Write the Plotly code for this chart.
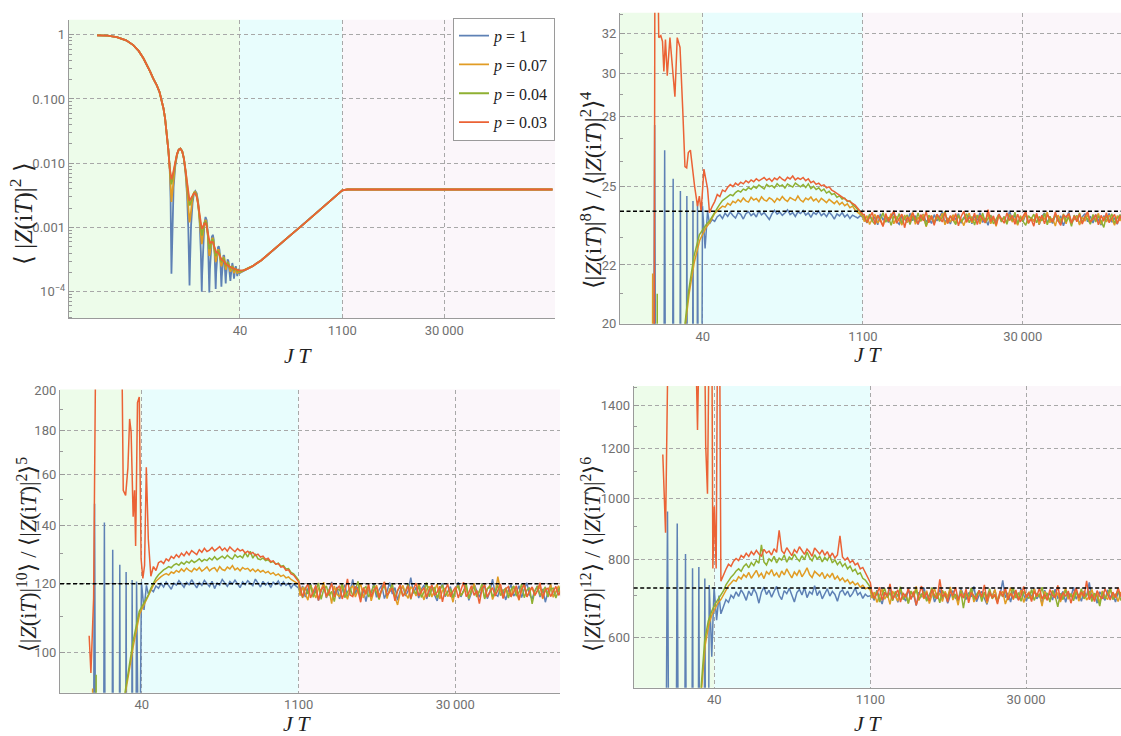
import numpy as np
import plotly.graph_objects as go

# ---------------------------------------------------------------- series
LABELS = ["<i>p</i> = 1", "<i>p</i> = 0.07", "<i>p</i> = 0.04", "<i>p</i> = 0.03"]
COLORS = ["#5E81B5", "#E19C24", "#8FB032", "#EB6235"]

REGION_EDGES = [40, 1100]                      # JT where the shading changes
X_TICKS = [40, 1100, 30000]
X_TICK_TEXT = ["40", "1100", "30\u2009000"]

# ---- panel 1: <|Z(iT)|^2>
DECAY_X = [0.39, 0.55, 0.74, 1.0, 1.26, 1.5, 1.75, 2.0, 2.17, 2.4, 2.69, 2.95, 3.17,
           3.35, 3.53, 3.75, 3.93, 4.1]
DECAY_Y = [0.98, 0.97, 0.92, 0.82, 0.69, 0.56, 0.43, 0.33, 0.27, 0.21, 0.165, 0.128,
           0.097, 0.072, 0.05, 0.029, 0.016, 0.0085]

OSC_X = [4.22, 4.34, 4.47, 4.65, 4.9, 5.2, 5.5, 5.8, 6.15, 6.5,
         6.85, 7.2, 7.5, 7.7, 7.8, 7.95, 8.2, 8.6, 9.0, 9.4,
         9.85, 10.3, 10.8, 11.25, 11.45, 11.6, 11.75, 12.1, 12.6, 13.1,
         13.6, 14.1, 14.5, 14.8, 15.1, 15.6, 16.1, 16.6, 17.1, 17.6,
         18.0, 18.2, 18.5, 19.1, 19.6, 20.1, 20.6, 21.2, 21.7, 21.9,
         22.2, 22.8, 23.4, 24.0, 24.6, 25.0, 25.2, 25.5, 26.1, 26.8,
         27.5, 28.2, 28.9, 29.3, 29.7, 30.4, 31.2, 32.0, 32.6, 32.9,
         33.3, 34.1, 34.9, 35.7, 36.3, 36.6, 37.0, 37.8, 38.6, 39.4,
         40.0]
OSC_P100 = [2.8e-3, 1.9e-4, 1.1e-3, 4.2e-3, 8.8e-3, 1.35e-2, 1.63e-2, 1.70e-2, 1.55e-2, 1.18e-2,
            7.2e-3, 3.2e-3, 9.5e-4, 2.6e-4, 1.25e-4, 3.2e-4, 1.1e-3, 2.4e-3, 3.4e-3, 3.7e-3,
            3.4e-3, 2.5e-3, 1.3e-3, 4.2e-4, 1.6e-4, 1.0e-4, 1.9e-4, 6.0e-4, 1.15e-3, 1.46e-3,
            1.3e-3, 8.4e-4, 3.6e-4, 9.7e-5, 2.2e-4, 5.2e-4, 7.2e-4, 7.7e-4, 6.5e-4, 3.9e-4,
            1.7e-4, 1.1e-4, 2.0e-4, 3.9e-4, 4.9e-4, 5.1e-4, 4.5e-4, 3.0e-4, 1.6e-4, 1.2e-4,
            1.7e-4, 2.9e-4, 3.7e-4, 3.6e-4, 2.5e-4, 1.6e-4, 1.35e-4, 1.8e-4, 2.7e-4, 3.2e-4,
            3.0e-4, 2.3e-4, 1.65e-4, 1.48e-4, 1.75e-4, 2.5e-4, 2.8e-4, 2.4e-4, 1.8e-4, 1.6e-4,
            1.75e-4, 2.3e-4, 2.5e-4, 2.2e-4, 1.85e-4, 1.75e-4, 1.9e-4, 2.25e-4, 2.2e-4, 1.95e-4,
            1.97e-4]
OSC_P007 = [4.2e-3, 2.5e-3, 3.5e-3, 5.8e-3, 9.7e-3, 1.36e-2, 1.62e-2, 1.69e-2, 1.54e-2, 1.18e-2,
            7.4e-3, 3.8e-3, 1.9e-3, 1.32e-3, 1.2e-3, 1.35e-3, 1.9e-3, 2.9e-3, 3.5e-3, 3.6e-3,
            3.2e-3, 2.4e-3, 1.3e-3, 7.0e-4, 5.8e-4, 5.5e-4, 6.0e-4, 8.2e-4, 1.17e-3, 1.32e-3,
            1.16e-3, 7.5e-4, 4.6e-4, 3.6e-4, 3.9e-4, 5.4e-4, 6.6e-4, 6.9e-4, 5.9e-4, 4.1e-4,
            3.1e-4, 2.9e-4, 3.1e-4, 4.0e-4, 4.5e-4, 4.5e-4, 4.0e-4, 3.1e-4, 2.6e-4, 2.5e-4,
            2.6e-4, 3.1e-4, 3.4e-4, 3.3e-4, 2.8e-4, 2.3e-4, 2.2e-4, 2.3e-4, 2.65e-4, 2.85e-4,
            2.75e-4, 2.45e-4, 2.15e-4, 2.05e-4, 2.12e-4, 2.38e-4, 2.5e-4, 2.35e-4, 2.1e-4, 1.95e-4,
            2.0e-4, 2.2e-4, 2.3e-4, 2.15e-4, 2.0e-4, 1.92e-4, 1.97e-4, 2.12e-4, 2.1e-4, 2.02e-4,
            2.0e-4]
OSC_P004 = [5.5e-3, 4.7e-3, 5.5e-3, 7.3e-3, 1.05e-2, 1.39e-2, 1.63e-2, 1.69e-2, 1.54e-2, 1.18e-2,
            7.6e-3, 4.3e-3, 2.7e-3, 2.3e-3, 2.2e-3, 2.3e-3, 2.6e-3, 3.1e-3, 3.5e-3, 3.5e-3,
            3.1e-3, 2.3e-3, 1.4e-3, 9.0e-4, 7.9e-4, 7.5e-4, 7.9e-4, 9.5e-4, 1.18e-3, 1.25e-3,
            1.1e-3, 7.8e-4, 5.5e-4, 4.6e-4, 4.8e-4, 5.7e-4, 6.4e-4, 6.5e-4, 5.6e-4, 4.4e-4,
            3.8e-4, 3.6e-4, 3.7e-4, 4.1e-4, 4.3e-4, 4.2e-4, 3.9e-4, 3.3e-4, 3.0e-4, 2.9e-4,
            2.95e-4, 3.2e-4, 3.3e-4, 3.15e-4, 2.8e-4, 2.55e-4, 2.5e-4, 2.55e-4, 2.7e-4, 2.8e-4,
            2.7e-4, 2.5e-4, 2.32e-4, 2.28e-4, 2.3e-4, 2.42e-4, 2.45e-4, 2.35e-4, 2.22e-4, 2.18e-4,
            2.2e-4, 2.28e-4, 2.28e-4, 2.2e-4, 2.12e-4, 2.1e-4, 2.12e-4, 2.17e-4, 2.14e-4, 2.08e-4,
            2.06e-4]
OSC_P003 = [6.2e-3, 5.6e-3, 6.2e-3, 7.8e-3, 1.08e-2, 1.40e-2, 1.63e-2, 1.68e-2, 1.53e-2, 1.18e-2,
            7.8e-3, 4.7e-3, 3.1e-3, 2.7e-3, 2.6e-3, 2.7e-3, 2.9e-3, 3.2e-3, 3.4e-3, 3.4e-3,
            3.0e-3, 2.3e-3, 1.5e-3, 1.1e-3, 9.8e-4, 9.5e-4, 9.7e-4, 1.05e-3, 1.15e-3, 1.17e-3,
            1.04e-3, 8.2e-4, 6.6e-4, 5.9e-4, 5.7e-4, 5.8e-4, 6.0e-4, 5.9e-4, 5.4e-4, 4.7e-4,
            4.3e-4, 4.2e-4, 4.1e-4, 4.15e-4, 4.1e-4, 3.95e-4, 3.7e-4, 3.4e-4, 3.2e-4, 3.15e-4,
            3.1e-4, 3.1e-4, 3.05e-4, 2.95e-4, 2.8e-4, 2.7e-4, 2.68e-4, 2.66e-4, 2.65e-4, 2.62e-4,
            2.55e-4, 2.48e-4, 2.42e-4, 2.4e-4, 2.39e-4, 2.38e-4, 2.35e-4, 2.31e-4, 2.28e-4, 2.27e-4,
            2.26e-4, 2.25e-4, 2.23e-4, 2.2e-4, 2.19e-4, 2.18e-4, 2.18e-4, 2.17e-4, 2.16e-4, 2.15e-4,
            2.15e-4]

RAMP_X = [45, 50, 60, 80, 100, 150, 200, 300, 400, 600, 800, 1000, 1100, 1300, 1e4, 1e5, 1e6]
RAMP_Y = [2.15e-4, 2.25e-4, 2.5e-4, 3.1e-4, 3.8e-4, 5.6e-4, 7.4e-4, 1.08e-3, 1.43e-3, 2.12e-3,
          2.8e-3, 3.5e-3, 3.8e-3, 3.9e-3, 3.9e-3, 3.9e-3, 3.9e-3]

# ---- panels 2-4: moment ratios; early (oscillating) part, dip-ramp hump, plateau
HUMP_SPAN = (46, 1100)
PLATEAU_SPAN = (1130, 2.8e5)
REF_LEVELS = [24, 120, 720]          # k! reference lines for k = 4, 5, 6

BLUE_EARLY_X = [7.5, 13.0, 14.8, 16.5, 18.2, 20.0, 21.7, 23.5, 25.2, 27.0,
                28.8, 30.8, 32.7, 34.3, 35.9, 37.9, 39.8, 42.0, 44.2]

# k = 4
R4_BLUE_EARLY = [2, 2, 27.6, 2, 26.5, 2, 25.3, 2, 24.8, 2, 24.6, 2, 24.4, 3, 24.3, 8, 24.2, 22.6, 24.0]
R4_ORANGE_EARLY_X = [7.5, 13.6, 14.2, 14.8, 26.5, 28.0, 30.2, 33.6, 37.6, 43.2]
R4_ORANGE_EARLY = [2, 2, 21.7, 2, 5, 20.0, 21.0, 22.1, 22.9, 23.4]
R4_GREEN_EARLY_X = [7.5, 14.9, 15.6, 16.3, 26.5, 27.7, 29.9, 33.3, 37.3, 43.2]
R4_GREEN_EARLY = [2, 2, 21.0, 2, 5, 20.0, 21.1, 22.3, 23.1, 23.5]
R4_RED_EARLY_X = [7.5, 14.0, 14.9, 15.6, 16.1, 16.8, 17.4, 17.9, 18.5, 19.2, 20.3, 21.2, 22.5, 23.6,
                  25.0, 26.4, 27.7, 28.7, 29.7, 31.0, 32.4, 33.8, 35.9, 37.3, 38.7, 41.0, 44.2]
R4_RED_EARLY = [2, 2, 40, 40, 31.8, 31.9, 31.6, 30.1, 31.7, 29.9, 31.8, 30.5, 28.9, 31.8,
                31.3, 28.4, 25.8, 25.75, 26.4, 26.5, 25.6, 25.0, 24.2, 24.6, 24.0, 25.7, 24.9]

R4_BLUE_HUMP = [23.52, 23.68, 23.61, 23.79, 23.86, 23.72, 23.93, 23.80, 23.97, 23.84,
                23.74, 23.95, 23.88, 23.70, 23.91, 23.99, 23.83, 23.92, 23.78, 24.02,
                23.86, 23.95, 23.81, 23.68, 23.90, 24.04, 23.89, 23.97, 23.84, 23.93,
                24.06, 23.87, 23.95, 23.80, 23.98, 23.91, 24.03, 23.85, 23.94, 23.76,
                23.96, 23.88, 24.01, 23.83, 23.92, 23.79, 23.97, 23.86, 23.70, 23.90,
                23.82, 23.95, 23.78, 23.88, 23.72, 23.85, 23.79, 23.74, 23.83, 23.76]
R4_ORANGE_HUMP = [23.55, 23.75, 23.92, 24.02, 24.12, 24.20, 24.16, 24.31, 24.24, 24.39,
                  24.33, 24.46, 24.37, 24.52, 24.41, 24.36, 24.55, 24.44, 24.50, 24.38,
                  24.57, 24.45, 24.40, 24.53, 24.47, 24.35, 24.51, 24.43, 24.58, 24.46,
                  24.39, 24.54, 24.48, 24.42, 24.60, 24.44, 24.37, 24.52, 24.45, 24.56,
                  24.41, 24.49, 24.36, 24.51, 24.43, 24.34, 24.47, 24.38, 24.30, 24.41,
                  24.26, 24.35, 24.22, 24.29, 24.14, 24.20, 24.05, 23.96, 23.88, 23.79]
R4_GREEN_HUMP = [23.62, 23.80, 23.97, 24.12, 24.28, 24.42, 24.50, 24.58, 24.66, 24.61,
                 24.74, 24.82, 24.76, 24.88, 24.83, 24.94, 24.87, 24.99, 24.91, 25.04,
                 24.95, 24.89, 25.07, 24.98, 25.02, 24.93, 25.10, 24.99, 25.05, 24.92,
                 25.08, 25.01, 24.96, 25.12, 25.03, 24.97, 25.06, 24.94, 25.09, 24.90,
                 24.99, 24.86, 24.93, 24.80, 24.88, 24.72, 24.79, 24.66, 24.70, 24.55,
                 24.61, 24.48, 24.52, 24.38, 24.41, 24.26, 24.18, 24.05, 23.96, 23.84]
R4_RED_HUMP = [23.95, 24.18, 24.38, 24.66, 24.58, 24.84, 24.78, 24.95, 25.06, 24.98,
               25.12, 25.04, 25.16, 25.09, 25.22, 25.14, 25.25, 25.18, 25.30, 25.21,
               25.27, 25.35, 25.24, 25.31, 25.19, 25.33, 25.26, 25.38, 25.28, 25.22,
               25.36, 25.29, 25.41, 25.25, 25.33, 25.27, 25.35, 25.22, 25.30, 25.14,
               25.20, 25.07, 25.12, 25.01, 25.05, 24.93, 24.97, 24.84, 24.78, 24.70,
               24.62, 24.55, 24.49, 24.42, 24.38, 24.30, 24.24, 24.12, 24.02, 23.88]

R4_BLUE_PLATEAU = [23.74, 23.55, 23.86, 23.62, 23.79, 23.48, 23.90, 23.66, 23.81, 23.57,
                   23.76, 23.95, 23.60, 23.50, 23.84, 23.71, 23.58, 23.92, 23.64, 23.83,
                   23.49, 23.77, 23.89, 23.59, 23.72, 23.53, 23.87, 23.63, 23.80, 23.97,
                   23.56, 23.75, 23.51, 23.85, 23.68, 23.91, 23.54, 23.78, 23.61, 23.88,
                   23.52, 23.82, 23.65, 23.94, 23.57, 23.73, 23.46, 23.84, 23.67, 23.55,
                   23.90, 23.62, 23.79, 23.56, 24.02, 23.66, 23.85, 23.50, 23.77, 23.60,
                   23.89, 23.54, 23.74, 23.63, 23.86, 23.48, 23.80, 23.93, 23.58, 23.71,
                   23.53, 23.88, 23.62, 23.82, 23.44, 23.76, 23.96, 23.57, 23.69, 23.84,
                   23.51, 23.78, 23.91, 23.60, 23.81, 23.55, 23.87, 23.66, 23.47, 23.83,
                   23.61, 23.92, 23.58, 23.75, 23.50, 23.86, 23.64, 23.79, 23.40, 23.72]
R4_ORANGE_PLATEAU = [23.60, 23.83, 23.49, 23.72, 23.88, 23.55, 23.69, 23.43, 23.85, 23.63,
                     23.91, 23.52, 23.78, 23.66, 23.47, 23.86, 23.57, 23.75, 23.95, 23.50,
                     23.77, 23.61, 23.89, 23.41, 23.70, 23.84, 23.53, 23.79, 23.64, 23.92,
                     23.48, 23.73, 23.58, 23.87, 23.54, 23.82, 23.69, 23.45, 23.76, 23.93,
                     23.56, 23.67, 23.86, 23.51, 23.80, 23.62, 23.90, 23.52, 23.74, 23.42,
                     23.84, 23.63, 23.78, 23.55, 23.89, 23.59, 23.71, 23.46, 23.83, 23.65,
                     23.94, 23.53, 23.76, 23.61, 23.87, 23.49, 23.80, 23.70, 23.97, 23.56,
                     23.73, 23.43, 23.85, 23.64, 23.79, 23.52, 23.91, 23.58, 23.70, 23.83,
                     23.47, 23.77, 23.62, 23.88, 23.54, 23.81, 23.67, 23.92, 23.50, 23.78,
                     23.59, 23.85, 23.71, 23.46, 23.83, 23.63, 23.89, 23.55, 23.75, 23.61]
R4_GREEN_PLATEAU = [23.79, 23.56, 23.89, 23.62, 23.50, 23.84, 23.70, 23.94, 23.58, 23.77,
                    23.46, 23.83, 23.65, 23.91, 23.54, 23.73, 23.86, 23.49, 23.81, 23.60,
                    23.93, 23.63, 23.79, 23.43, 23.85, 23.69, 23.57, 23.88, 23.61, 23.76,
                    24.00, 23.54, 23.82, 23.66, 23.49, 23.87, 23.59, 23.73, 23.91, 23.56,
                    23.80, 23.47, 23.84, 23.62, 23.93, 23.55, 23.72, 23.83, 23.52, 23.70,
                    23.88, 23.59, 23.79, 23.50, 23.86, 23.64, 23.96, 23.53, 23.78, 23.61,
                    23.46, 23.83, 23.70, 23.89, 23.56, 23.80, 23.63, 23.92, 23.48, 23.81,
                    23.58, 23.86, 23.72, 23.53, 23.90, 23.60, 23.77, 23.42, 23.85, 23.65,
                    23.94, 23.57, 23.80, 23.70, 23.50, 23.88, 23.59, 23.82, 23.63, 23.38,
                    23.84, 23.61, 23.90, 23.54, 23.74, 23.85, 23.55, 23.80, 23.64, 23.87]
R4_RED_PLATEAU = [23.88, 23.57, 23.76, 23.96, 23.50, 23.85, 23.64, 23.42, 23.91, 23.61,
                  23.80, 24.02, 23.54, 23.73, 23.89, 23.37, 23.79, 23.59, 23.94, 23.70,
                  23.51, 23.87, 23.63, 23.98, 23.56, 23.82, 23.46, 23.89, 23.72, 23.59,
                  23.95, 23.53, 23.83, 23.64, 23.91, 23.44, 23.80, 24.00, 23.57, 23.78,
                  23.62, 23.93, 23.49, 23.85, 23.70, 23.56, 24.06, 23.60, 23.82, 23.47,
                  23.88, 23.72, 23.54, 23.94, 23.64, 23.84, 23.50, 23.89, 23.59, 23.80,
                  23.99, 23.56, 23.70, 23.43, 23.92, 23.62, 23.84, 23.52, 23.87, 23.72,
                  23.59, 23.97, 23.64, 23.46, 23.85, 23.78, 23.91, 23.54, 23.82, 23.60,
                  23.89, 23.51, 23.80, 23.98, 23.59, 23.70, 23.87, 23.48, 23.84, 23.62,
                  23.94, 23.56, 23.72, 23.88, 23.52, 23.82, 23.64, 23.91, 23.57, 23.79]

# k = 5
R5_BLUE_EARLY = [3, 3, 148.3, 3, 141.1, 3, 131.3, 3, 126.2, 3, 123.8, 3, 121.2, 20, 120.7, 60, 120.5, 112.0, 119.5]
R5_ORANGE_EARLY_X = [7.5, 13.7, 14.2, 14.7, 26.5, 28.4, 30.8, 33.6, 38.3, 44.2]
R5_ORANGE_EARLY = [3, 3, 91, 3, 40, 90, 95.5, 102, 110.8, 115.2]
R5_GREEN_EARLY_X = [7.5, 14.7, 15.3, 15.9, 26.5, 28.1, 30.5, 33.3, 38.0, 44.2]
R5_GREEN_EARLY = [3, 3, 94.4, 3, 40, 90, 96, 103, 111.6, 115.8]
R5_RED_EARLY_X = [13.2, 13.7, 14.5, 15.3, 26.0, 27.1, 28.5, 29.9, 31.0, 32.0,
                  33.4, 34.4, 35.2, 36.6, 38.0, 39.5, 41.0, 42.5, 44.1, 45.2]
R5_RED_EARLY = [104.6, 94.8, 115.5, 260, 260, 153.6, 151.6, 163.0, 185.5, 179.3,
                143.3, 153.6, 132.6, 193.7, 196.6, 128.2, 121.7, 126.0, 163.3, 149.6]

R5_BLUE_HUMP = [116.8, 118.2, 117.5, 119.3, 118.6, 120.1, 119.0, 120.6, 119.4, 118.3,
                120.2, 119.6, 121.0, 119.8, 118.9, 120.5, 119.7, 121.3, 120.0, 118.7,
                120.4, 119.5, 121.1, 120.2, 119.1, 120.8, 118.5, 120.3, 119.6, 121.4,
                120.1, 119.2, 120.7, 119.9, 121.2, 120.0, 118.8, 120.6, 119.7, 121.0,
                120.3, 119.4, 121.5, 120.2, 119.0, 120.8, 119.6, 120.4, 118.9, 120.5,
                119.8, 120.9, 119.3, 120.6, 119.5, 120.2, 118.7, 119.9, 119.2, 118.6]
R5_ORANGE_HUMP = [116.2, 118.0, 119.6, 120.8, 121.7, 122.3, 122.9, 123.3, 122.8, 123.8,
                  123.4, 124.3, 123.7, 124.8, 124.0, 125.1, 124.3, 123.9, 125.0, 124.4,
                  125.3, 124.1, 124.7, 125.5, 124.2, 124.9, 125.2, 124.0, 125.6, 124.6,
                  124.3, 125.4, 124.8, 125.9, 124.5, 125.1, 124.2, 125.3, 124.7, 125.0,
                  124.1, 124.8, 123.9, 124.6, 123.8, 124.3, 123.5, 124.0, 123.1, 123.6,
                  122.7, 123.2, 122.4, 122.8, 121.9, 122.2, 121.4, 121.0, 120.4, 119.9]
R5_GREEN_HUMP = [116.5, 118.6, 120.4, 121.8, 122.9, 123.8, 124.5, 125.0, 125.6, 125.2,
                 126.1, 126.6, 126.0, 127.0, 126.4, 127.3, 126.8, 127.7, 126.9, 127.5,
                 128.2, 127.3, 128.0, 127.6, 128.5, 127.8, 128.9, 127.9, 128.4, 129.1,
                 128.3, 129.4, 128.6, 128.1, 129.6, 128.7, 129.2, 128.5, 130.3, 128.8,
                 130.8, 128.4, 129.9, 128.2, 127.9, 128.5, 127.6, 127.9, 127.0, 127.3,
                 126.4, 126.7, 125.7, 125.9, 124.8, 124.9, 123.7, 123.2, 122.2, 121.1]
R5_RED_HUMP = [135.0, 122.4, 125.6, 124.3, 126.9, 127.4, 126.6, 128.2, 127.5, 129.0,
               128.3, 129.6, 128.7, 130.1, 129.2, 130.6, 129.5, 131.0, 130.2, 129.6,
               131.3, 130.4, 131.8, 130.7, 131.2, 132.1, 130.9, 131.6, 132.4, 131.1,
               131.9, 130.8, 132.3, 131.4, 130.6, 131.7, 130.9, 131.3, 130.2, 130.8,
               129.9, 130.4, 129.3, 129.8, 128.8, 129.1, 128.0, 128.4, 127.2, 127.5,
               126.4, 126.6, 125.4, 125.6, 124.3, 124.5, 123.2, 122.8, 121.7, 120.6]

R5_BLUE_PLATEAU = [117.2, 119.3, 115.9, 118.4, 120.1, 116.4, 118.6, 114.8, 117.7, 119.8,
                   115.6, 118.2, 120.6, 116.7, 119.0, 115.3, 117.9, 119.7, 115.8, 117.6,
                   121.4, 116.9, 119.1, 115.9, 118.3, 114.5, 118.5, 117.0, 120.0, 115.8,
                   118.2, 119.5, 115.4, 117.6, 120.4, 116.8, 118.8, 114.9, 117.9, 119.3,
                   116.2, 117.8, 122.0, 117.0, 118.9, 115.6, 118.3, 119.6, 115.3, 117.5,
                   119.4, 116.5, 114.7, 118.1, 120.2, 116.0, 117.7, 119.1, 115.7, 118.4,
                   120.5, 115.9, 117.9, 119.2, 114.9, 117.1, 119.9, 117.8, 115.8, 118.3,
                   119.3, 115.4, 117.5, 121.5, 116.7, 116.1, 118.9, 117.6, 115.0, 117.9,
                   119.7, 116.2, 117.3, 119.4, 115.7, 118.2, 120.3, 116.6, 115.3, 117.8,
                   119.1, 115.9, 118.4, 114.3, 117.6, 119.6, 116.1, 117.4, 118.6, 115.8]
R5_ORANGE_PLATEAU = [116.3, 119.0, 116.9, 114.9, 119.6, 117.6, 115.6, 118.6, 117.9, 120.5,
                     115.8, 118.2, 113.9, 119.3, 116.8, 115.9, 119.9, 117.5, 115.2, 118.4,
                     119.4, 115.9, 117.8, 120.1, 115.6, 118.1, 118.9, 114.7, 117.6, 119.6,
                     116.4, 117.9, 120.6, 115.4, 118.4, 118.7, 115.8, 113.5, 117.3, 119.5,
                     116.9, 115.5, 119.1, 118.1, 116.2, 120.2, 117.5, 115.0, 118.3, 119.2,
                     115.9, 117.7, 119.9, 115.3, 117.9, 118.6, 116.0, 117.5, 114.3, 118.4,
                     119.6, 116.4, 117.6, 118.9, 115.4, 118.1, 120.1, 116.2, 117.7, 119.0,
                     115.6, 118.4, 119.5, 115.1, 117.2, 122.3, 117.9, 115.7, 118.7, 116.9,
                     116.1, 119.2, 117.5, 114.9, 118.2, 119.8, 115.9, 117.6, 118.9, 116.4,
                     117.9, 119.3, 115.3, 118.2, 116.8, 119.9, 115.8, 117.4, 119.4, 116.2]
R5_GREEN_PLATEAU = [118.4, 115.6, 119.0, 116.8, 119.7, 115.8, 117.7, 120.3, 115.2, 118.2,
                    119.3, 116.3, 117.6, 114.5, 118.7, 117.9, 119.9, 115.7, 117.4, 118.8,
                    116.2, 118.1, 120.8, 115.4, 118.4, 119.1, 115.9, 117.3, 119.5, 116.9,
                    115.1, 118.2, 119.4, 116.3, 117.6, 120.0, 115.6, 117.9, 119.0, 116.2,
                    117.7, 119.9, 115.2, 118.2, 116.9, 119.3, 115.8, 117.4, 120.4, 116.0,
                    118.4, 118.8, 115.6, 117.9, 119.7, 116.3, 117.3, 118.5, 115.7, 118.1,
                    119.4, 116.2, 117.6, 120.1, 115.4, 118.2, 119.0, 115.9, 117.7, 119.9,
                    115.3, 118.4, 119.1, 116.0, 117.4, 119.5, 116.3, 117.9, 118.6, 115.6,
                    118.2, 119.3, 116.2, 117.3, 119.9, 115.7, 118.0, 118.8, 113.8, 117.6,
                    119.4, 116.3, 117.7, 119.0, 115.9, 118.4, 118.6, 115.6, 117.9, 119.5]
R5_RED_PLATEAU = [119.0, 115.9, 118.4, 120.0, 115.6, 117.7, 119.5, 114.9, 118.2, 119.1,
                  116.2, 117.4, 120.3, 115.8, 118.4, 119.4, 115.3, 117.6, 121.6, 116.5,
                  116.0, 119.2, 117.9, 114.3, 118.8, 116.7, 119.9, 115.9, 118.1, 119.0,
                  115.6, 118.4, 120.6, 116.4, 117.7, 118.7, 114.7, 117.9, 119.7, 116.1,
                  117.3, 119.4, 115.4, 118.4, 120.2, 116.2, 117.6, 118.8, 115.8, 118.2,
                  119.6, 116.4, 117.4, 119.2, 114.4, 118.0, 119.9, 115.9, 117.7, 119.0,
                  115.6, 118.2, 120.5, 116.0, 117.3, 119.4, 116.4, 117.9, 113.9, 118.5,
                  119.7, 115.8, 117.6, 118.8, 116.2, 118.0, 120.0, 115.4, 118.4, 119.1,
                  116.0, 117.4, 119.4, 115.1, 118.2, 119.8, 115.9, 117.7, 119.0, 116.4,
                  117.9, 120.3, 115.6, 118.2, 118.6, 116.0, 117.6, 119.2, 116.4, 118.0]

# k = 6
R6_BLUE_EARLY = [20, 20, 952, 20, 911, 20, 815, 20, 774, 20, 777, 30, 745, 100, 728, 560, 722, 640, 700]
R6_ORANGE_EARLY_X = [7.5, 28.9, 30.6, 33.0, 35.6, 38.3, 41.3, 43.8]
R6_ORANGE_EARLY = [20, 100, 500, 585, 630, 655, 672, 684]
R6_GREEN_EARLY_X = [7.5, 28.5, 30.2, 32.6, 35.2, 37.9, 40.9, 43.5]
R6_GREEN_EARLY = [20, 100, 500, 594, 638, 662, 680, 692]
R6_RED_EARLY_X = [13.4, 14.2, 15.0, 26.9, 28.0, 29.0, 32.6, 33.3, 34.6, 35.8, 38.0, 38.8, 40.0,
                  41.6, 42.8, 44.8]
R6_RED_EARLY = [1172, 881, 1800, 1800, 1282, 1800, 1800, 1215, 1016, 1800, 1800, 773, 969,
                773, 1800, 1800]

R6_BLUE_HUMP = [655, 672, 690, 683, 701, 694, 710, 698, 715, 704,
                688, 712, 700, 718, 706, 681, 709, 722, 703, 714,
                696, 711, 724, 701, 690, 713, 705, 719, 699, 684,
                708, 716, 702, 721, 695, 710, 704, 726, 700, 713,
                692, 707, 718, 699, 711, 703, 686, 709, 715, 701,
                712, 697, 706, 720, 702, 708, 693, 704, 698, 700]
R6_ORANGE_HUMP = [690, 702, 715, 726, 733, 741, 738, 750, 744, 756,
                  749, 762, 746, 758, 768, 751, 760, 745, 764, 757,
                  770, 752, 761, 748, 766, 755, 772, 759, 747, 763,
                  754, 769, 750, 761, 775, 756, 748, 765, 758, 752,
                  762, 745, 757, 749, 760, 743, 752, 740, 747, 736,
                  742, 731, 737, 728, 733, 722, 727, 718, 721, 714]
R6_GREEN_HUMP = [700, 712, 728, 740, 749, 756, 766, 772, 765, 779,
                 786, 775, 790, 781, 796, 788, 843, 792, 783, 801,
                 794, 808, 789, 803, 797, 812, 791, 806, 799, 815,
                 802, 794, 810, 798, 821, 804, 795, 813, 800, 808,
                 792, 805, 796, 810, 789, 798, 784, 793, 779, 787,
                 772, 780, 765, 771, 757, 761, 746, 741, 731, 722]
R6_RED_HUMP = [738, 757, 771, 785, 779, 794, 802, 796, 811, 804,
               817, 808, 822, 813, 826, 815, 809, 829, 818, 824,
               812, 831, 820, 889, 825, 816, 834, 822, 810, 828,
               819, 837, 826, 814, 830, 821, 808, 833, 824, 815,
               827, 811, 822, 806, 818, 803, 812, 871, 806, 797,
               804, 790, 796, 783, 788, 772, 776, 761, 750, 734]

R6_BLUE_PLATEAU = [701, 688, 714, 695, 679, 708, 697, 722, 690, 705,
                   683, 711, 699, 686, 717, 693, 704, 675, 709, 696,
                   721, 689, 702, 712, 684, 698, 716, 691, 706, 681,
                   700, 713, 694, 687, 719, 703, 690, 708, 697, 724,
                   685, 701, 711, 693, 678, 706, 699, 715, 688, 702,
                   740, 695, 707, 684, 712, 698, 690, 718, 701, 686,
                   709, 696, 721, 692, 703, 680, 714, 699, 705, 689,
                   717, 694, 700, 711, 683, 708, 697, 722, 691, 704,
                   686, 712, 698, 735, 693, 706, 681, 710, 699, 688,
                   715, 696, 703, 684, 709, 700, 692, 718, 695, 705]
R6_ORANGE_PLATEAU = [694, 709, 683, 700, 717, 691, 705, 678, 712, 698,
                     686, 720, 695, 703, 681, 710, 699, 724, 688, 704,
                     692, 713, 680, 701, 718, 694, 707, 685, 711, 697,
                     723, 689, 703, 676, 715, 698, 706, 690, 719, 684,
                     700, 712, 693, 708, 681, 704, 696, 716, 687, 702,
                     711, 679, 698, 721, 690, 706, 694, 714, 683, 701,
                     709, 692, 718, 697, 705, 674, 711, 699, 688, 713,
                     695, 708, 684, 702, 720, 691, 704, 697, 715, 686,
                     703, 710, 689, 699, 716, 693, 706, 682, 712, 698,
                     690, 719, 696, 704, 685, 709, 700, 693, 714, 688]
R6_GREEN_PLATEAU = [706, 691, 713, 684, 702, 719, 695, 708, 687, 711,
                    698, 723, 690, 705, 680, 712, 697, 716, 689, 703,
                    710, 686, 700, 721, 693, 707, 682, 714, 699, 691,
                    717, 695, 704, 688, 712, 669, 706, 698, 720, 690,
                    703, 713, 685, 709, 696, 718, 692, 701, 683, 710,
                    697, 715, 689, 705, 720, 694, 708, 686, 711, 700,
                    693, 716, 688, 704, 698, 722, 691, 707, 684, 713,
                    699, 672, 706, 690, 714, 697, 703, 687, 709, 695,
                    718, 692, 701, 712, 685, 706, 698, 674, 710, 693,
                    704, 719, 690, 700, 713, 688, 707, 696, 711, 694]
R6_RED_PLATEAU = [712, 693, 705, 722, 688, 709, 698, 731, 691, 704,
                  715, 684, 707, 696, 719, 690, 711, 676, 703, 725,
                  694, 708, 687, 716, 700, 692, 743, 697, 706, 684,
                  713, 699, 722, 689, 705, 694, 717, 682, 708, 700,
                  691, 714, 697, 728, 686, 710, 695, 703, 679, 712,
                  698, 720, 690, 706, 693, 715, 688, 701, 724, 696,
                  707, 685, 711, 699, 719, 692, 704, 688, 716, 700,
                  695, 727, 689, 708, 698, 712, 681, 705, 720, 694,
                  710, 697, 739, 690, 704, 685, 713, 699, 692, 718,
                  702, 689, 709, 695, 721, 698, 706, 684, 712, 700]

# ---------------------------------------------------------------- layout constants
FIG_W, FIG_H = 1121, 736
SHADES = ["#EDFCEA", "#E8FDFD", "#FBF6FA"]
GRID = "#a8a8a8"
AXIS = "#9a9a9a"
TICKFONT = dict(family="Roboto", size=13, color="#707070")
SERIF = "Liberation Serif"

PANELS = [
    dict(x="x", y="y", xdom=[0.0613, 0.4951], ydom=[0.5673, 0.9810],
         xr=[-0.808, 6.035], yr=[-4.415, 0.234]),
    dict(x="x2", y="y2", xdom=[0.5531, 1.0], ydom=[0.5598, 0.9905],
         xr=[0.859, 5.36], yr=[np.log10(20), np.log10(33.1)]),
    dict(x="x3", y="y3", xdom=[0.0535, 0.4996], ydom=[0.0489, 0.4688],
         xr=[0.853, 5.437], yr=[np.log10(90), np.log10(200.5)]),
    dict(x="x4", y="y4", xdom=[0.5653, 1.0], ydom=[0.0557, 0.4738],
         xr=[0.8586, 5.353], yr=[np.log10(500), np.log10(1506)]),
]

Y_TICKS = [
    ([1, 0.1, 0.01, 0.001, 1e-4], ["1", "0.100", "0.010", "0.001", "10<sup>\u22124</sup>"]),
    ([20, 22, 25, 28, 30, 32], ["20", "22", "25", "28", "30", "32"]),
    ([100, 120, 140, 160, 180, 200], ["100", "120", "140", "160", "180", "200"]),
    ([600, 800, 1000, 1200, 1400], ["600", "800", "1000", "1200", "1400"]),
]
Y_MINOR = [
    [m * 10.0 ** k for k in range(-5, 1) for m in range(2, 10)],
    [21, 23, 24, 26, 27, 29, 31, 33],
    [90, 110, 130, 150, 170, 190],
    [500, 700, 900, 1100, 1300, 1500],
]

fig = go.Figure()

# ---------------------------------------------------------------- panel 1 traces
osc_sets = [OSC_P100, OSC_P007, OSC_P004, OSC_P003]
for name, color, osc in zip(LABELS, COLORS, osc_sets):
    fig.add_trace(go.Scatter(
        x=DECAY_X + OSC_X + RAMP_X, y=DECAY_Y + osc + RAMP_Y,
        mode="lines", name=name, legendgroup=name,
        line=dict(color=color, width=1.8),
        xaxis="x", yaxis="y", hoverinfo="skip"))

# ---------------------------------------------------------------- ratio panels
ratio_panels = [
    ("x2", "y2", [
        (BLUE_EARLY_X, R4_BLUE_EARLY, R4_BLUE_HUMP, R4_BLUE_PLATEAU),
        (R4_ORANGE_EARLY_X, R4_ORANGE_EARLY, R4_ORANGE_HUMP, R4_ORANGE_PLATEAU),
        (R4_GREEN_EARLY_X, R4_GREEN_EARLY, R4_GREEN_HUMP, R4_GREEN_PLATEAU),
        (R4_RED_EARLY_X, R4_RED_EARLY, R4_RED_HUMP, R4_RED_PLATEAU)]),
    ("x3", "y3", [
        (BLUE_EARLY_X, R5_BLUE_EARLY, R5_BLUE_HUMP, R5_BLUE_PLATEAU),
        (R5_ORANGE_EARLY_X, R5_ORANGE_EARLY, R5_ORANGE_HUMP, R5_ORANGE_PLATEAU),
        (R5_GREEN_EARLY_X, R5_GREEN_EARLY, R5_GREEN_HUMP, R5_GREEN_PLATEAU),
        (R5_RED_EARLY_X, R5_RED_EARLY, R5_RED_HUMP, R5_RED_PLATEAU)]),
    ("x4", "y4", [
        (BLUE_EARLY_X, R6_BLUE_EARLY, R6_BLUE_HUMP, R6_BLUE_PLATEAU),
        (R6_ORANGE_EARLY_X, R6_ORANGE_EARLY, R6_ORANGE_HUMP, R6_ORANGE_PLATEAU),
        (R6_GREEN_EARLY_X, R6_GREEN_EARLY, R6_GREEN_HUMP, R6_GREEN_PLATEAU),
        (R6_RED_EARLY_X, R6_RED_EARLY, R6_RED_HUMP, R6_RED_PLATEAU)]),
]
for xa, ya, series in ratio_panels:
    for name, color, (ex, ey, hump, plat) in zip(LABELS, COLORS, series):
        hx = np.geomspace(HUMP_SPAN[0], HUMP_SPAN[1], len(hump))
        px = np.geomspace(PLATEAU_SPAN[0], PLATEAU_SPAN[1], len(plat))
        fig.add_trace(go.Scatter(
            x=list(ex) + list(hx) + list(px), y=list(ey) + hump + plat,
            mode="lines", name=name, legendgroup=name, showlegend=False,
            line=dict(color=color, width=1.5),
            xaxis=xa, yaxis=ya, hoverinfo="skip"))

# ---------------------------------------------------------------- shading, reference lines
shapes = []
for p in PANELS:
    bounds = [1e-3] + REGION_EDGES + [1e8]
    for shade, x0, x1 in zip(SHADES, bounds[:-1], bounds[1:]):
        shapes.append(dict(type="rect", xref=p["x"], yref=p["y"] + " domain",
                           x0=x0, x1=x1, y0=0, y1=1, fillcolor=shade,
                           line=dict(width=0), layer="below"))
for p, level in zip(PANELS[1:], REF_LEVELS):
    shapes.append(dict(type="line", xref=p["x"] + " domain", yref=p["y"],
                       x0=0, x1=1, y0=level, y1=level,
                       line=dict(color="black", width=1.5, dash="4px,2.5px"),
                       layer="above"))

# ---------------------------------------------------------------- axes
layout = dict(
    width=FIG_W, height=FIG_H, autosize=False,
    margin=dict(l=0, r=0, t=0, b=0),
    paper_bgcolor="white", plot_bgcolor="white",
    shapes=shapes,
    showlegend=True,
    legend=dict(x=453 / FIG_W, y=1 - 12 / FIG_H, xanchor="left", yanchor="top",
                bgcolor="white", bordercolor="#9a9a9a", borderwidth=1,
                font=dict(family=SERIF, size=16, color="#222"),
                tracegroupgap=5, itemwidth=30),
)
for i, (p, (tv, tt), minor) in enumerate(zip(PANELS, Y_TICKS, Y_MINOR)):
    suffix = "" if i == 0 else str(i + 1)
    layout["xaxis" + suffix] = dict(
        type="log", domain=p["xdom"], range=p["xr"], anchor=p["y"],
        tickmode="array", tickvals=X_TICKS, ticktext=X_TICK_TEXT, ticks="",
        showgrid=True, gridcolor=GRID, griddash="4px,3px", gridwidth=1,
        showline=True, linecolor=AXIS, linewidth=1.2, zeroline=False,
        tickfont=TICKFONT, fixedrange=True)
    layout["yaxis" + suffix] = dict(
        type="log", domain=p["ydom"], range=p["yr"], anchor=p["x"],
        tickmode="array", tickvals=tv, ticktext=tt,
        ticks="inside", ticklen=5, tickcolor=AXIS, tickwidth=1,
        minor=dict(tickmode="array", tickvals=minor, ticks="inside", ticklen=3,
                   tickcolor=AXIS, showgrid=False),
        showgrid=True, gridcolor=GRID, griddash="4px,3px", gridwidth=1,
        showline=True, linecolor=AXIS, linewidth=1.2, zeroline=False,
        tickfont=TICKFONT, fixedrange=True)

# ---------------------------------------------------------------- titles
ZT = "|<i>Z</i>(i<i>T</i>)|"
Y_TITLES = [
    "\u27e8 " + ZT + "<sup>2</sup> \u27e9",
    "\u27e8" + ZT + "<sup>8</sup>\u27e9 / \u27e8" + ZT + "<sup>2</sup>\u27e9<sup>4</sup>",
    "\u27e8" + ZT + "<sup>10</sup>\u27e9 / \u27e8" + ZT + "<sup>2</sup>\u27e9<sup>5</sup>",
    "\u27e8" + ZT + "<sup>12</sup>\u27e9 / \u27e8" + ZT + "<sup>2</sup>\u27e9<sup>6</sup>",
]
Y_TITLE_POS = [(22, 212, 25), (591, 188, 24), (27, 559, 22.5), (591, 559, 22.5)]
X_TITLE_POS = [(298, 356), (868, 355), (297, 731), (868, 731)]

annotations = []
for text, (px, py, fs) in zip(Y_TITLES, Y_TITLE_POS):
    annotations.append(dict(text=text, xref="paper", yref="paper",
                            x=px / FIG_W, y=1 - py / FIG_H, showarrow=False,
                            textangle=-90, xanchor="center", yanchor="middle",
                            font=dict(family=SERIF, size=fs, color="#222")))
for px, py in X_TITLE_POS:
    annotations.append(dict(text="<i>J\u2009T</i>", xref="paper", yref="paper",
                            x=px / FIG_W, y=1 - py / FIG_H, showarrow=False,
                            xanchor="center", yanchor="middle",
                            font=dict(family=SERIF, size=22, color="#222")))
layout["annotations"] = annotations

fig.update_layout(**layout)
fig.write_html("out.html")
